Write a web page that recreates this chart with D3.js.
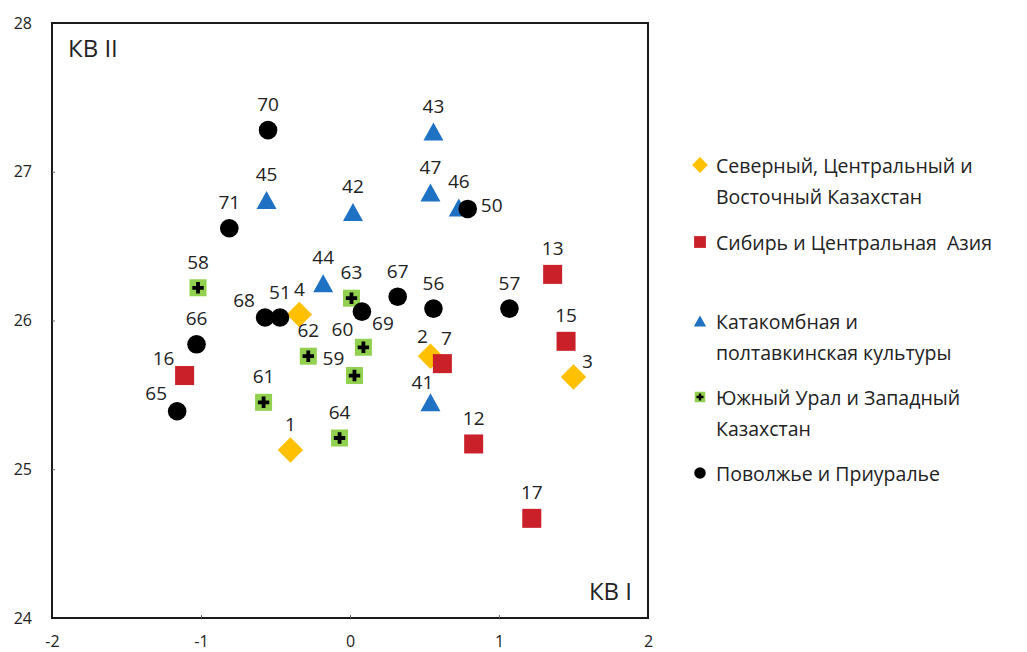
<!DOCTYPE html>
<html><head><meta charset="utf-8">
<script src="https://cdn.jsdelivr.net/npm/d3@7"></script>
<style>
html,body{margin:0;padding:0;background:#fff;}
svg{display:block;}
text{font-family:"Open Sans","Noto Sans",sans-serif;fill:#222;white-space:pre;}
</style></head>
<body>
<script>
// ---- data ----
const seriesNames = [
  ["Северный, Центральный и", "Восточный Казахстан"],
  ["Сибирь и Центральная  Азия"],
  ["Катакомбная и", "полтавкинская культуры"],
  ["Южный Урал и Западный", "Казахстан"],
  ["Поволжье и Приуралье"]
];
const seriesShapes = ["diamond", "square", "triangle", "plus", "circle"];
const seriesColors = ["#ffc000", "#c9202a", "#1f72c3", "#92d050", "#000000"];

const kazLabels = ["1", "2", "3", "4"];
const kazX = [-0.40, 0.54, 1.50, -0.34];
const kazY = [25.13, 25.76, 25.62, 26.04];
const kazPos = ["n", "nl", "ne", "n"];

const sibLabels = ["7", "12", "13", "15", "16", "17"];
const sibX = [0.62, 0.83, 1.36, 1.45, -1.11, 1.22];
const sibY = [25.71, 25.17, 26.31, 25.86, 25.63, 24.67];
const sibPos = ["nr", "n", "n", "n", "nw", "n"];

const katLabels = ["41", "42", "43", "44", "45", "46", "47"];
const katX = [0.54, 0.02, 0.56, -0.18, -0.56, 0.73, 0.54];
const katY = [25.45, 26.73, 27.27, 26.25, 26.81, 26.76, 26.86];
const katPos = ["nl", "n", "n", "n", "n", "n", "n"];

const uralLabels = ["58", "59", "60", "61", "62", "63", "64"];
const uralX = [-1.02, 0.03, 0.09, -0.58, -0.28, 0.01, -0.07];
const uralY = [26.22, 25.63, 25.82, 25.45, 25.76, 26.15, 25.21];
const uralPos = ["n", "nw", "nw", "n", "n", "n", "n"];

const volLabels = ["50", "51", "56", "57", "65", "66", "67", "68", "69", "70", "71"];
const volX = [0.79, -0.47, 0.56, 1.07, -1.16, -1.03, 0.32, -0.57, 0.08, -0.55, -0.81];
const volY = [26.75, 26.02, 26.08, 26.08, 25.39, 25.84, 26.16, 26.02, 26.06, 27.28, 26.62];
const volPos = ["e", "n", "n", "n", "nw", "n", "n", "nw", "se", "n", "n"];

const xTicks = [-2, -1, 0, 1, 2];
const yTicks = [24, 25, 26, 27, 28];
const axisTitleX = "КВ I";
const axisTitleY = "КВ II";

const series = [
  {labels: kazLabels, xs: kazX, ys: kazY, pos: kazPos},
  {labels: sibLabels, xs: sibX, ys: sibY, pos: sibPos},
  {labels: katLabels, xs: katX, ys: katY, pos: katPos},
  {labels: uralLabels, xs: uralX, ys: uralY, pos: uralPos},
  {labels: volLabels, xs: volX, ys: volY, pos: volPos}
];

// ---- layout ----
const W = 1027, H = 652;
const M = {left: 52, top: 23, right: 648, bottom: 618};
const x = d3.scaleLinear().domain([-2, 2]).range([M.left, M.right]);
const y = d3.scaleLinear().domain([24, 28]).range([M.bottom, M.top]);

const svg = d3.select("body").append("svg").attr("width", W).attr("height", H);

// plot frame
svg.append("rect").attr("x", M.left).attr("y", M.top)
  .attr("width", M.right - M.left).attr("height", M.bottom - M.top)
  .attr("fill", "none").attr("stroke", "#1a1a1a").attr("stroke-width", 2);

// axes (small inward ticks, labels outside)
const fmt = d => String(d);
const xAxis = d3.axisBottom(x).tickValues(xTicks).tickSize(-3).tickPadding(0).tickFormat(fmt);
const gx = svg.append("g").attr("transform", `translate(0,${M.bottom})`).call(xAxis);
const yAxis = d3.axisLeft(y).tickValues(yTicks).tickSize(-3).tickPadding(20).tickFormat(fmt);
const gy = svg.append("g").attr("transform", `translate(${M.left},0)`).call(yAxis);
[gx, gy].forEach(g => {
  g.select(".domain").remove();
  g.attr("font-size", 16).attr("font-family", "Open Sans, sans-serif");
  g.selectAll(".tick line").attr("stroke", "#666").attr("stroke-width", 1);
  g.selectAll(".tick text").attr("font-size", 16).attr("fill", "#333");
});
gx.selectAll(".tick text").attr("y", 23).attr("dy", null).attr("dominant-baseline", "central");
gx.selectAll(".tick").filter(d => d === -2 || d === 2).select("line").remove();
gy.selectAll(".tick").filter(d => d === 24 || d === 28).select("line").remove();

svg.append("text").attr("x", M.left + 16).attr("y", 57).attr("font-size", 24).text(axisTitleY);
svg.append("text").attr("x", M.right - 16).attr("y", 600).attr("text-anchor", "end").attr("font-size", 24).text(axisTitleX);

// markers
const sizes = {diamond: 18, square: 19, triangle: 20, plus: 17, circle: 9.3};
function drawMarker(g, shape, color, scale) {
  const s = scale || 1;
  if (shape === "circle") {
    g.append("circle").attr("r", sizes.circle * s).attr("fill", color);
  } else if (shape === "square") {
    const a = sizes.square * s;
    g.append("rect").attr("x", -a/2).attr("y", -a/2).attr("width", a).attr("height", a).attr("fill", color);
  } else if (shape === "diamond") {
    const a = sizes.diamond * s;
    g.append("rect").attr("x", -a/2).attr("y", -a/2).attr("width", a).attr("height", a)
      .attr("transform", "rotate(45)").attr("fill", color);
  } else if (shape === "triangle") {
    const a = sizes.triangle * s, h = a * 0.9;
    g.append("path").attr("d", `M0,${-h/2}L${a/2},${h/2}L${-a/2},${h/2}Z`).attr("fill", color);
  } else if (shape === "plus") {
    const a = sizes.plus * s;
    g.append("rect").attr("x", -a/2).attr("y", -a/2).attr("width", a).attr("height", a).attr("fill", color);
    g.append("path").attr("d", d3.symbol().type(d3.symbolCross).size(72 * s * s)()).attr("fill", "#000");
  }
}

const offsets = {
  n: [0, -26], nl: [-8, -20], nr: [4, -26], nw: [-21, -18],
  ne: [14, -16], e: [24, -4], se: [21, 11]
};

series.forEach((sr, i) => {
  const pts = sr.xs.map((v, j) => ({x: v, y: sr.ys[j], label: sr.labels[j], pos: sr.pos[j]}));
  const g = svg.append("g");
  pts.forEach(p => {
    const m = g.append("g").attr("transform", `translate(${x(p.x)},${y(p.y)})`);
    drawMarker(m, seriesShapes[i], seriesColors[i]);
  });
  series[i].pts = pts;
});
// labels on top
series.forEach(sr => {
  svg.append("g").selectAll("text").data(sr.pts).join("text")
    .attr("x", d => x(d.x) + offsets[d.pos][0])
    .attr("y", d => y(d.y) + offsets[d.pos][1])
    .attr("text-anchor", "middle").attr("dominant-baseline", "central")
    .attr("font-size", 19).text(d => d.label);
});

// legend
const legendY = [165, 242, 321, 397, 473];
const lg = svg.append("g");
seriesNames.forEach((lines, i) => {
  const m = lg.append("g").attr("transform", `translate(700,${legendY[i]})`);
  drawMarker(m, seriesShapes[i], seriesColors[i], 0.62);
  lines.forEach((t, k) => {
    lg.append("text").attr("x", 716).attr("y", legendY[i] + k * 31)
      .attr("dominant-baseline", "central").attr("font-size", 19.5).text(t);
  });
});
</script>
</body></html>
